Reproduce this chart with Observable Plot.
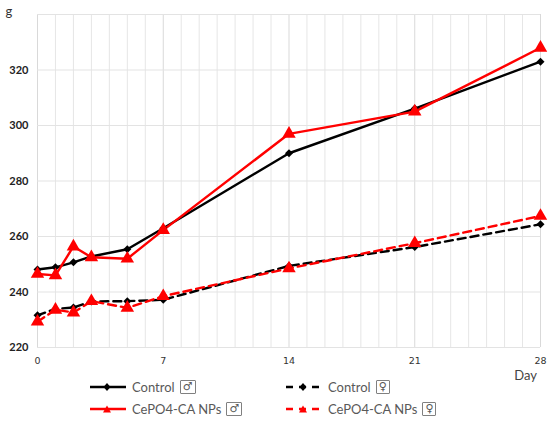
<!DOCTYPE html>
<html>
<head>
<meta charset="utf-8">
<script src="https://cdn.jsdelivr.net/npm/d3@7"></script>
<script src="https://cdn.jsdelivr.net/npm/@observablehq/plot@0.6"></script>
<style>
  html, body { margin: 0; padding: 0; background: #fff; }
  #wrap { position: relative; width: 550px; height: 422px; overflow: hidden; }
  #legend { position: absolute; left: 0; top: 377px; width: 550px; height: 45px;
    font-family: Lato, "Open Sans", sans-serif; font-size: 13px; color: #595959; }
  .item { position: absolute; display: flex; align-items: center; height: 20px; }
  .item svg { margin-right: 4px; }
  .sym { display: inline-block; border: 1px solid #808080; font-size: 11px; line-height: 12px;
    padding: 0 2px; margin-left: 5px; border-radius: 1px; font-family: "DejaVu Sans", sans-serif; }
</style>
</head>
<body>
<div id="wrap">
  <div id="chart"></div>
  <div id="legend"></div>
</div>
<script>
const days = [0, 1, 2, 3, 5, 7, 14, 21, 28];
const controlMale   = [248.1, 248.9, 250.7, 252.8, 255.4, 263.0, 290.0, 306.1, 323.0];
const cepoMale      = [246.5, 246.0, 256.4, 252.5, 252.0, 262.3, 297.0, 305.0, 328.0];
const controlFemale = [231.6, 233.9, 234.4, 236.6, 236.7, 237.2, 249.4, 256.2, 264.4];
const cepoFemale    = [229.3, 233.6, 232.6, 236.7, 234.3, 238.5, 248.5, 257.6, 267.4];

const seriesNames = ["Control ♂", "Control ♀", "CePO4-CA NPs ♂", "CePO4-CA NPs ♀"];
const yTicks = [220, 240, 260, 280, 300, 320];
const yGrid = [220, 240, 260, 280, 300, 320, 340];
const xTicks = [0, 7, 14, 21, 28];
const xGrid = d3.range(0, 29);

const styles = [
  {name: seriesNames[0], values: controlMale,   color: "#000000", dash: null,  symbol: "diamond2", r: 3.6},
  {name: seriesNames[1], values: controlFemale, color: "#000000", dash: "8,5", symbol: "diamond2", r: 3.6},
  {name: seriesNames[2], values: cepoMale,      color: "#ff0000", dash: null,  symbol: "triangle", r: 5},
  {name: seriesNames[3], values: cepoFemale,    color: "#ff0000", dash: "8,5", symbol: "triangle", r: 5}
];

const marks = [
  Plot.gridX(xGrid.filter(d => d % 7 !== 0), {stroke: "#e6e6e6", strokeOpacity: 1, strokeWidth: 1}),
  Plot.gridX(xTicks, {stroke: "#d9d9d9", strokeOpacity: 1, strokeWidth: 1}),
  Plot.gridY(yGrid, {stroke: "#e3e3e3", strokeOpacity: 1, strokeWidth: 1}),
  Plot.axisY(yTicks, {tickSize: 0, tickPadding: 9, fontSize: 11, fontWeight: "bold", fill: "#222",
    fontFamily: "Lato, 'Open Sans', sans-serif", label: null}),
  Plot.axisX(xTicks, {tickSize: 0, tickPadding: 10, fontSize: 9.5, fill: "#333",
    fontFamily: "'DejaVu Sans', sans-serif", label: null})
];

for (const s of styles) {
  const data = days.map((d, i) => ({day: d, value: s.values[i]}));
  marks.push(Plot.line(data, {x: "day", y: "value", stroke: s.color, strokeWidth: 2.4,
    strokeDasharray: s.dash, curve: "linear"}));
}
for (const s of styles) {
  const data = days.map((d, i) => ({day: d, value: s.values[i]}));
  marks.push(Plot.dot(data, {x: "day", y: "value", fill: s.color, stroke: "none",
    symbol: s.symbol, r: s.r}));
}

const chart = Plot.plot({
  width: 550,
  height: 382,
  marginLeft: 37,
  marginRight: 10,
  marginTop: 14,
  marginBottom: 35,
  x: {domain: [0, 28]},
  y: {domain: [220, 340]},
  style: {background: "#fff", overflow: "visible"},
  marks
});
document.getElementById("chart").appendChild(chart);

// axis unit labels
const svg = d3.select(chart);
svg.append("text").attr("x", 9).attr("y", 16).text("g")
  .attr("font-family", "Lato, 'Open Sans', sans-serif").attr("font-size", 13).attr("fill", "#333");
svg.append("text").attr("x", 537).attr("y", 380).attr("text-anchor", "end").text("Day")
  .attr("font-family", "Lato, 'Open Sans', sans-serif").attr("font-size", 13).attr("fill", "#444");

// legend
const legendPos = [
  {s: styles[0], left: 90, top: 0},
  {s: styles[1], left: 286, top: 0},
  {s: styles[2], left: 90, top: 22},
  {s: styles[3], left: 286, top: 22}
];
const legend = document.getElementById("legend");
for (const p of legendPos) {
  const s = p.s;
  const div = document.createElement("div");
  div.className = "item";
  div.style.left = p.left + "px";
  div.style.top = p.top + "px";
  const sym = s.symbol === "triangle"
    ? `<path d="M17,4.5 L21,11.5 L13,11.5 Z" fill="${s.color}"/>`
    : `<path d="M17,4 L20.5,8 L17,12 L13.5,8 Z" fill="${s.color}"/>`;
  const line = s.dash
    ? `<line x1="0" y1="8" x2="34" y2="8" stroke="${s.color}" stroke-width="2.6" stroke-dasharray="7,6"/>`
    : `<line x1="0" y1="8" x2="36" y2="8" stroke="${s.color}" stroke-width="2.6"/>`;
  const parts = s.name.split(" ");
  const gender = parts.pop();
  div.innerHTML = `<svg width="38" height="16">${line}${sym}</svg><span>${parts.join(" ")}</span><span class="sym">${gender}</span>`;
  legend.appendChild(div);
}
</script>
</body>
</html>
